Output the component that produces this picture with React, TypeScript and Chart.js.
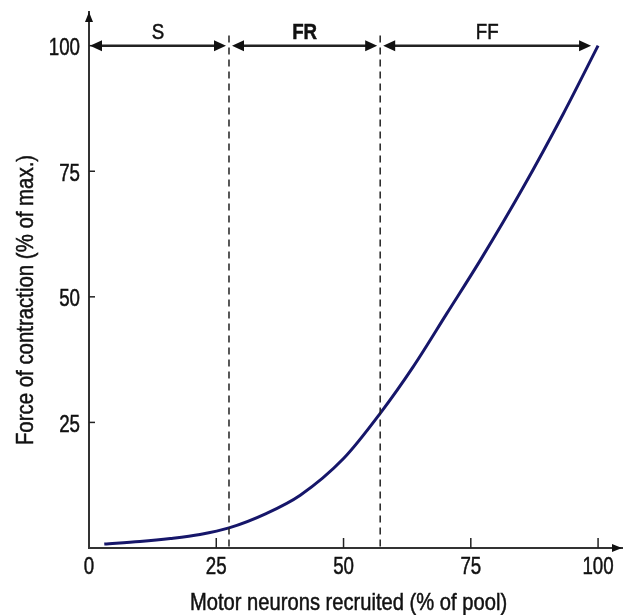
import React, { useEffect, useRef } from "react";
import { Chart, registerables } from "chart.js";

Chart.register(...registerables);

// Data
const recruited = [3, 10, 16, 21.8, 27.5, 34.9, 41.5, 50, 57.2, 63.7, 70.3, 77, 85.3, 93.2, 100];
const force = [0.8, 1.3, 1.9, 2.7, 4.0, 6.9, 10.5, 17.8, 26.8, 36.1, 46.7, 57.5, 71.8, 86.5, 100];
const xTickValues = [0, 25, 50, 75, 100];
const yTickValues = [25, 50, 75, 100];
const regionLabels = ["S", "FR", "FF"];
const regionBounds = [0, 27.5, 57.2, 100];
const regionBold = [false, true, false];
const dividerValues = [27.5, 57.2];
const xTitle = "Motor neurons recruited (% of pool)";
const yTitle = "Force of contraction (% of max.)";

const FONT = "'Liberation Sans', Arial, sans-serif";
const TEXT = "#111";

function narrowText(
  ctx: CanvasRenderingContext2D,
  text: string,
  x: number,
  y: number,
  font: string,
  align: CanvasTextAlign,
  sx: number,
  rotate = 0
) {
  ctx.save();
  ctx.translate(x, y);
  if (rotate) ctx.rotate(rotate);
  ctx.scale(sx, 1);
  ctx.font = font;
  ctx.fillStyle = TEXT;
  ctx.strokeStyle = TEXT;
  ctx.lineWidth = 0.5;
  ctx.textAlign = align;
  ctx.textBaseline = "middle";
  ctx.fillText(text, 0, 0);
  ctx.strokeText(text, 0, 0);
  ctx.restore();
}

function arrowHead(ctx: CanvasRenderingContext2D, tipX: number, tipY: number, dir: number, len: number, half: number, vertical = false) {
  ctx.beginPath();
  if (!vertical) {
    ctx.moveTo(tipX, tipY);
    ctx.lineTo(tipX - dir * len, tipY - half);
    ctx.lineTo(tipX - dir * len, tipY + half);
  } else {
    ctx.moveTo(tipX, tipY);
    ctx.lineTo(tipX - half, tipY - dir * len);
    ctx.lineTo(tipX + half, tipY - dir * len);
  }
  ctx.closePath();
  ctx.fill();
}

const decorPlugin = {
  id: "decor",
  afterDraw(chart: any) {
    const { ctx, scales, chartArea } = chart;
    const x = scales.x;
    const y = scales.y;
    ctx.save();
    ctx.strokeStyle = "#222";
    ctx.fillStyle = "#111";
    const y0 = y.getPixelForValue(0);
    const x0 = x.getPixelForValue(0);
    // inside tick marks
    ctx.lineWidth = 1.5;
    xTickValues.forEach((v) => {
      if (v === 0) return;
      const px = x.getPixelForValue(v);
      ctx.beginPath();
      ctx.moveTo(px, y0);
      ctx.lineTo(px, y0 - 10);
      ctx.stroke();
    });
    yTickValues.forEach((v) => {
      const py = y.getPixelForValue(v);
      ctx.beginPath();
      ctx.moveTo(x0, py);
      ctx.lineTo(x0 + 6, py);
      ctx.stroke();
    });
    // axis arrowheads
    arrowHead(ctx, x0, chartArea.top, -1, 10, 4, true);
    arrowHead(ctx, chartArea.right, y0, 1, 10, 4, false);
    // dashed dividers
    ctx.setLineDash([7, 5]);
    ctx.lineWidth = 1.5;
    dividerValues.forEach((v) => {
      const px = x.getPixelForValue(v);
      ctx.beginPath();
      ctx.moveTo(px, y.getPixelForValue(102));
      ctx.lineTo(px, y0);
      ctx.stroke();
    });
    ctx.setLineDash([]);
    // region arrows
    const ay = y.getPixelForValue(100);
    ctx.lineWidth = 2.5;
    for (let i = 0; i < regionLabels.length; i++) {
      const a = x.getPixelForValue(regionBounds[i]) + (i === 0 ? 1 : 3);
      const b = x.getPixelForValue(regionBounds[i + 1]) - (i === regionLabels.length - 1 ? 7 : 3);
      ctx.beginPath();
      ctx.moveTo(a + 6, ay);
      ctx.lineTo(b - 6, ay);
      ctx.stroke();
      arrowHead(ctx, a, ay, -1, 12, 5.5);
      arrowHead(ctx, b, ay, 1, 12, 5.5);
      narrowText(ctx, regionLabels[i], (a + b) / 2, ay - 13, (regionBold[i] ? "bold " : "") + "22px " + FONT, "center", 0.85);
    }
    // tick labels
    const tickFont = "24px " + FONT;
    xTickValues.forEach((v) => {
      narrowText(ctx, String(v), x.getPixelForValue(v), y0 + 19, tickFont, "center", 0.78);
    });
    yTickValues.forEach((v) => {
      narrowText(ctx, String(v), x0 - 9, y.getPixelForValue(v) + 3, tickFont, "right", 0.78);
    });
    // axis titles
    narrowText(ctx, xTitle, x.getPixelForValue(50) + 5, 603, "24px " + FONT, "center", 0.84);
    narrowText(ctx, yTitle, 26, 300, "24px " + FONT, "center", 0.85, -Math.PI / 2);
    ctx.restore();
  },
};

export default function App() {
  const ref = useRef<HTMLCanvasElement | null>(null);
  useEffect(() => {
    if (!ref.current) return;
    const chart = new Chart(ref.current, {
      type: "line",
      data: {
        datasets: [
          {
            data: recruited.map((v, i) => ({ x: v, y: force[i] })),
            borderColor: "#16166a",
            borderWidth: 3,
            pointRadius: 0,
            cubicInterpolationMode: "monotone",
            fill: false,
          },
        ],
      },
      options: {
        animation: false,
        responsive: false,
        maintainAspectRatio: false,
        layout: { padding: { left: 0, right: 3, top: 12, bottom: 0 } },
        plugins: { legend: { display: false }, tooltip: { enabled: false } },
        scales: {
          x: {
            type: "linear",
            min: 0,
            max: 104.7,
            grid: { display: false, drawTicks: false },
            border: { display: true, color: "#333", width: 2 },
            afterBuildTicks: (s: any) => {
              s.ticks = xTickValues.map((v) => ({ value: v }));
            },
            afterFit: (s: any) => {
              s.height = 67;
            },
            ticks: { display: false },
          },
          y: {
            type: "linear",
            min: 0,
            max: 106.7,
            grid: { display: false, drawTicks: false },
            border: { display: true, color: "#333", width: 2 },
            afterBuildTicks: (s: any) => {
              s.ticks = yTickValues.map((v) => ({ value: v }));
            },
            afterFit: (s: any) => {
              s.width = 89;
            },
            ticks: { display: false },
          },
        },
      },
      plugins: [decorPlugin],
    } as any);
    return () => chart.destroy();
  }, []);
  return (
    <div style={{ position: "absolute", left: 0, top: 0, width: 625, height: 615, background: "#fff" }}>
      <canvas ref={ref} width={625} height={615} style={{ display: "block" }} />
    </div>
  );
}
